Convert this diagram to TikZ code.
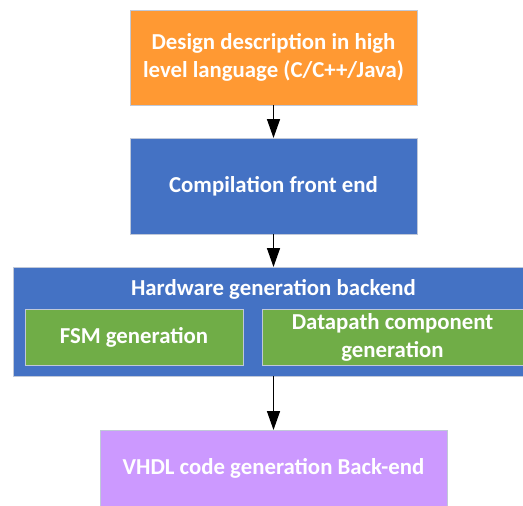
\documentclass[tikz,border=0pt]{standalone}
\usepackage{fontspec}
\setmainfont{Carlito}
\usetikzlibrary{arrows.meta}
\definecolor{corange}{HTML}{FF9933}
\definecolor{cblue}{HTML}{4472C4}
\definecolor{cgreen}{HTML}{70AD47}
\definecolor{cpurple}{HTML}{CC99FF}
\definecolor{cborder}{HTML}{C0C8D8}
\begin{document}
\begin{tikzpicture}[x=1pt,y=-1pt,
  box/.style={draw=cborder,line width=1pt,text=white,font=\fontsize{22.8}{28}\selectfont\bfseries,align=center,inner sep=0pt,outer sep=0pt},
  arr/.style={-{Triangle[width=13pt,length=19pt]},line width=1.5pt,black}]
\useasboundingbox (0,0) rectangle (523,506);
\clip (0,0) rectangle (523,506);
\fill[white] (0,0) rectangle (523,506);
\node[box,fill=corange,minimum width=287pt,minimum height=95pt] (design) at (273.5,57.5) {Design description in high\\level language (C/C++/Java)};
\node[box,fill=cblue,minimum width=287pt,minimum height=96pt] (comp) at (273.5,186) {Compilation front end};
\node[box,fill=cblue,minimum width=510pt,minimum height=109pt] (hw) at (268,321.5) {};
\node[box,draw=none,fill=none] (hwtitle) at (273.5,289) {Hardware generation backend};
\node[box,fill=cgreen,minimum width=218pt,minimum height=56pt] (fsm) at (134,337) {FSM generation};
\node[box,fill=cgreen,minimum width=261pt,minimum height=56pt] (dp) at (392.5,337) {Datapath component\\generation};
\node[box,fill=cpurple,minimum width=347pt,minimum height=76pt] (vhdl) at (273.5,468) {VHDL code generation Back-end};
\draw[arr] (design.south) -- (comp.north);
\draw[arr] (comp.south) -- (comp.south |- hw.north);
\draw[arr] (comp.south |- hw.south) -- (vhdl.north);
\end{tikzpicture}
\end{document}
